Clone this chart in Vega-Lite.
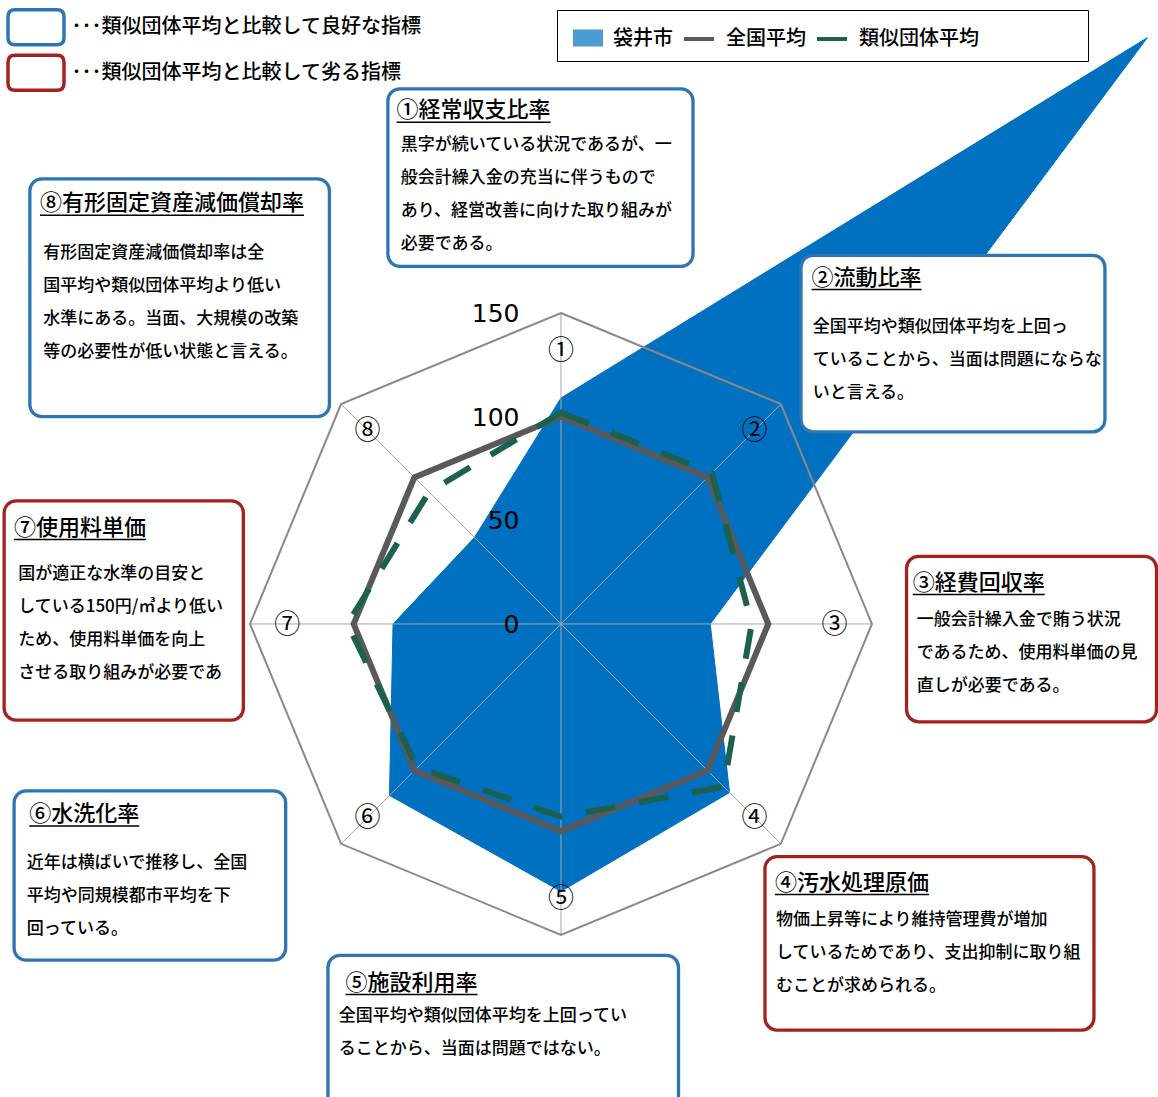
{
  "$schema": "https://vega.github.io/schema/vega-lite/v6.json",
  "width": 1158,
  "height": 1097,
  "autosize": {"type": "none"},
  "padding": 0,
  "background": "white",
  "config": {
    "view": {"stroke": null},
    "font": "Noto Sans CJK JP",
    "text": {"font": "Noto Sans CJK JP"}
  },
  "datasets": {
    "series": [
      {"指標": "①経常収支比率", "i": 0, "系列": "袋井市", "値": 109},
      {"指標": "②流動比率", "i": 1, "系列": "袋井市", "値": 400},
      {"指標": "③経費回収率", "i": 2, "系列": "袋井市", "値": 72},
      {"指標": "④汚水処理原価", "i": 3, "系列": "袋井市", "値": 115},
      {"指標": "⑤施設利用率", "i": 4, "系列": "袋井市", "値": 129},
      {"指標": "⑥水洗化率", "i": 5, "系列": "袋井市", "値": 117},
      {"指標": "⑦使用料単価", "i": 6, "系列": "袋井市", "値": 81},
      {"指標": "⑧有形固定資産減価償却率", "i": 7, "系列": "袋井市", "値": 59},
      {"指標": "①経常収支比率", "i": 0, "系列": "全国平均", "値": 100},
      {"指標": "②流動比率", "i": 1, "系列": "全国平均", "値": 100},
      {"指標": "③経費回収率", "i": 2, "系列": "全国平均", "値": 100},
      {"指標": "④汚水処理原価", "i": 3, "系列": "全国平均", "値": 100},
      {"指標": "⑤施設利用率", "i": 4, "系列": "全国平均", "値": 100},
      {"指標": "⑥水洗化率", "i": 5, "系列": "全国平均", "値": 100},
      {"指標": "⑦使用料単価", "i": 6, "系列": "全国平均", "値": 100},
      {"指標": "⑧有形固定資産減価償却率", "i": 7, "系列": "全国平均", "値": 100},
      {"指標": "①経常収支比率", "i": 0, "系列": "類似団体平均", "値": 102},
      {"指標": "②流動比率", "i": 1, "系列": "類似団体平均", "値": 103},
      {"指標": "③経費回収率", "i": 2, "系列": "類似団体平均", "値": 92},
      {"指標": "④汚水処理原価", "i": 3, "系列": "類似団体平均", "値": 111},
      {"指標": "⑤施設利用率", "i": 4, "系列": "類似団体平均", "値": 93},
      {"指標": "⑥水洗化率", "i": 5, "系列": "類似団体平均", "値": 98},
      {"指標": "⑦使用料単価", "i": 6, "系列": "類似団体平均", "値": 103},
      {"指標": "⑧有形固定資産減価償却率", "i": 7, "系列": "類似団体平均", "値": 90}
    ],
    "axes": [
      {"i": 0, "label": "①"},
      {"i": 1, "label": "②"},
      {"i": 2, "label": "③"},
      {"i": 3, "label": "④"},
      {"i": 4, "label": "⑤"},
      {"i": 5, "label": "⑥"},
      {"i": 6, "label": "⑦"},
      {"i": 7, "label": "⑧"}
    ],
    "ticks": [{"値": 0}, {"値": 50}, {"値": 100}, {"値": 150}],
    "boxes": [
      {"title": "①経常収支比率", "評価": "良好", "x1": -83.5, "x2": 63.7, "y1": 258.1, "y2": 172.5, "tx": -79.3, "ty": 248.2, "bx": -77.3, "by": 231.9,
       "body": ["黒字が続いている状況であるが、一", "般会計繰入金の充当に伴うもので", "あり、経営改善に向けた取り組みが", "必要である。"]},
      {"title": "②流動比率", "評価": "良好", "x1": 115.8, "x2": 262.4, "y1": 177.8, "y2": 92.7, "tx": 120.9, "ty": 167.5, "bx": 121.4, "by": 144.2,
       "body": ["全国平均や類似団体平均を上回っ", "ていることから、当面は問題にならな", "いと言える。"]},
      {"title": "③経費回収率", "評価": "劣る", "x1": 166.7, "x2": 287.3, "y1": 32.6, "y2": -47.2, "tx": 169.7, "ty": 20.4, "bx": 171.6, "by": 2.7,
       "body": ["一般会計繰入金で賄う状況", "であるため、使用料単価の見", "直しが必要である。"]},
      {"title": "④汚水処理原価", "評価": "劣る", "x1": 98.4, "x2": 257.1, "y1": -112.2, "y2": -195.9, "tx": 103.2, "ty": -124.3, "bx": 103.7, "by": -142.0,
       "body": ["物価上昇等により維持管理費が増加", "しているためであり、支出抑制に取り組", "むことが求められる。"]},
      {"title": "⑤施設利用率", "評価": "良好", "x1": -112.4, "x2": 56.7, "y1": -159.9, "y2": -235, "tx": -103.9, "ty": -172.6, "bx": -107.2, "by": -188.6,
       "body": ["全国平均や類似団体平均を上回ってい", "ることから、当面は問題ではない。"]},
      {"title": "⑥水洗化率", "評価": "良好", "x1": -263.8, "x2": -132.8, "y1": -80.5, "y2": -162.2, "tx": -256.5, "ty": -91.3, "bx": -257.7, "by": -114.7,
       "body": ["近年は横ばいで推移し、全国", "平均や同規模都市平均を下", "回っている。"]},
      {"title": "⑦使用料単価", "評価": "劣る", "x1": -268.6, "x2": -153.2, "y1": 59.4, "y2": -46.4, "tx": -263.9, "ty": 46.9, "bx": -261.8, "by": 24.7,
       "body": ["国が適正な水準の目安と", "している150円/㎥より低い", "ため、使用料単価を向上", "させる取り組みが必要であ"]},
      {"title": "⑧有形固定資産減価償却率", "評価": "良好", "x1": -256.2, "x2": -111.7, "y1": 214.7, "y2": 100.0, "tx": -251.3, "ty": 203.4, "bx": -249.7, "by": 179.6,
       "body": ["有形固定資産減価償却率は全", "国平均や類似団体平均より低い", "水準にある。当面、大規模の改築", "等の必要性が低い状態と言える。"]}
    ]
  },
  "layer": [
    {
      "data": {"name": "series"},
      "transform": [
        {"filter": "datum['系列'] === '袋井市'"},
        {"calculate": "datum['値'] * sin(datum.i * PI / 4)", "as": "px"},
        {"calculate": "datum['値'] * cos(datum.i * PI / 4)", "as": "py"}
      ],
      "mark": {"type": "line", "interpolate": "linear-closed", "stroke": "#0070C0", "strokeWidth": 1},
      "encoding": {
        "x": {"field": "px", "type": "quantitative", "axis": null, "scale": {"domain": [-270.6, 288.0], "nice": false, "zero": false}},
        "y": {"field": "py", "type": "quantitative", "axis": null, "scale": {"domain": [-228.2, 301.0], "nice": false, "zero": false}},
        "order": {"field": "i", "type": "quantitative"},
        "fill": {
          "field": "系列", "type": "nominal",
          "scale": {"domain": ["袋井市"], "range": ["#0070C0"]},
          "legend": {
            "title": null,
            "orient": "none",
            "legendX": 573,
            "legendY": 23,
            "padding": 0,
            "symbolType": "M-1,-0.57 H1 V0.57 H-1 Z",
            "symbolSize": 900,
            "symbolStrokeWidth": 0,
            "symbolOpacity": 0.7,
            "labelExpr": "''",
            "labelOffset": 0
          }
        }
      }
    },
    {
      "data": {"name": "axes"},
      "transform": [
        {"calculate": "150 * sin(datum.i * PI / 4)", "as": "ex"},
        {"calculate": "150 * cos(datum.i * PI / 4)", "as": "ey"}
      ],
      "mark": {"type": "rule", "color": "#A6A6A6", "strokeWidth": 1},
      "encoding": {
        "x": {"field": "ex", "type": "quantitative"},
        "y": {"field": "ey", "type": "quantitative"},
        "x2": {"datum": 0},
        "y2": {"datum": 0}
      }
    },
    {
      "data": {"name": "axes"},
      "transform": [
        {"calculate": "150 * sin(datum.i * PI / 4)", "as": "ex"},
        {"calculate": "150 * cos(datum.i * PI / 4)", "as": "ey"}
      ],
      "mark": {"type": "line", "interpolate": "linear-closed", "color": "#898989", "strokeWidth": 2},
      "encoding": {
        "x": {"field": "ex", "type": "quantitative"},
        "y": {"field": "ey", "type": "quantitative"},
        "order": {"field": "i", "type": "quantitative"}
      }
    },
    {
      "data": {"name": "series"},
      "transform": [
        {"filter": "datum['系列'] !== '袋井市'"},
        {"calculate": "datum['値'] * sin(datum.i * PI / 4)", "as": "px"},
        {"calculate": "datum['値'] * cos(datum.i * PI / 4)", "as": "py"}
      ],
      "mark": {"type": "line", "interpolate": "linear-closed", "strokeWidth": 6, "strokeJoin": "miter", "strokeCap": "butt"},
      "encoding": {
        "x": {"field": "px", "type": "quantitative"},
        "y": {"field": "py", "type": "quantitative"},
        "order": {"field": "i", "type": "quantitative"},
        "color": {
          "field": "系列", "type": "nominal",
          "scale": {"domain": ["袋井市", "全国平均", "類似団体平均"], "range": ["transparent", "#595959", "#1C6150"]},
          "legend": {
            "title": "　",
            "titleOrient": "right",
            "titlePadding": 97,
            "titleFontSize": 20,
            "orient": "none",
            "direction": "horizontal",
            "legendX": 557,
            "legendY": 10,
            "padding": 12,
            "strokeColor": "black",
            "symbolType": "stroke",
            "symbolSize": 900,
            "symbolStrokeWidth": 4,
            "labelFont": "Noto Sans CJK JP",
            "labelFontSize": 20,
            "labelFontWeight": 500,
            "labelColor": "black",
            "labelOffset": 10,
            "labelLimit": 400,
            "columnPadding": 3
          }
        },
        "strokeDash": {
          "field": "系列", "type": "nominal", "legend": null,
          "scale": {"domain": ["袋井市", "全国平均", "類似団体平均"], "range": [[1, 0], [1, 0], [30, 24]]}
        }
      }
    },
    {
      "data": {"name": "axes"},
      "transform": [
        {"calculate": "132 * sin(datum.i * PI / 4)", "as": "lx"},
        {"calculate": "132 * cos(datum.i * PI / 4)", "as": "ly"}
      ],
      "mark": {"type": "text", "fontSize": 26, "align": "center", "baseline": "alphabetic", "dy": 9, "color": "black"},
      "encoding": {
        "x": {"field": "lx", "type": "quantitative"},
        "y": {"field": "ly", "type": "quantitative"},
        "text": {"field": "label", "type": "nominal"}
      }
    },
    {
      "data": {"name": "ticks"},
      "mark": {"type": "text", "font": "DejaVu Sans", "fontSize": 25, "align": "right", "baseline": "alphabetic", "dy": 9, "color": "black"},
      "encoding": {
        "x": {"datum": -20, "type": "quantitative"},
        "y": {"field": "値", "type": "quantitative"},
        "text": {"field": "値", "type": "quantitative"}
      }
    },
    {
      "data": {"name": "boxes"},
      "mark": {"type": "rect", "fill": "white", "strokeWidth": 3.3, "cornerRadius": 12},
      "encoding": {
        "x": {"field": "x1", "type": "quantitative"},
        "x2": {"field": "x2"},
        "y": {"field": "y1", "type": "quantitative"},
        "y2": {"field": "y2"},
        "stroke": {
          "field": "評価", "type": "nominal",
          "scale": {"domain": ["良好", "劣る"], "range": ["#2E75B6", "#A5211E"]},
          "legend": {
            "title": null,
            "orient": "none",
            "direction": "vertical",
            "legendX": 16.5,
            "legendY": 7.75,
            "padding": 0,
            "symbolType": "M-1.2,-1 H1.2 Q1.6,-1 1.6,-0.6 V0.6 Q1.6,1 1.2,1 H-1.2 Q-1.6,1 -1.6,0.6 V-0.6 Q-1.6,-1 -1.2,-1 Z",
            "symbolSize": 1225,
            "symbolStrokeWidth": 3.5,
            "symbolFillColor": "white",
            "labelFont": "Noto Sans CJK JP",
            "labelFontSize": 20,
            "labelFontWeight": 500,
            "labelColor": "black",
            "labelOffset": 16,
            "labelLimit": 500,
            "rowPadding": -3.5,
            "labelExpr": "datum.label === '良好' ? '･･･類似団体平均と比較して良好な指標' : '･･･類似団体平均と比較して劣る指標'"
          }
        }
      }
    },
    {
      "data": {"name": "boxes"},
      "mark": {"type": "text", "fontSize": 22, "fontWeight": 500, "align": "left", "baseline": "alphabetic", "dy": 8, "color": "black"},
      "encoding": {
        "x": {"field": "tx", "type": "quantitative"},
        "y": {"field": "ty", "type": "quantitative"},
        "text": {"field": "title", "type": "nominal"}
      }
    },
    {
      "data": {"name": "boxes"},
      "transform": [
        {"calculate": "datum.tx + length(datum.title) * 22 / 2.073", "as": "ux2"},
        {"calculate": "datum.ty - 6.2", "as": "uy"}
      ],
      "mark": {"type": "rule", "color": "black", "strokeWidth": 1.5},
      "encoding": {
        "x": {"field": "tx", "type": "quantitative"},
        "x2": {"field": "ux2"},
        "y": {"field": "uy", "type": "quantitative"}
      }
    },
    {
      "data": {"name": "boxes"},
      "mark": {"type": "text", "fontSize": 17, "fontWeight": 500, "align": "left", "baseline": "alphabetic", "dy": 6.5, "lineHeight": 33, "color": "black"},
      "encoding": {
        "x": {"field": "bx", "type": "quantitative"},
        "y": {"field": "by", "type": "quantitative"},
        "text": {"field": "body", "type": "nominal"}
      }
    }
  ]
}
